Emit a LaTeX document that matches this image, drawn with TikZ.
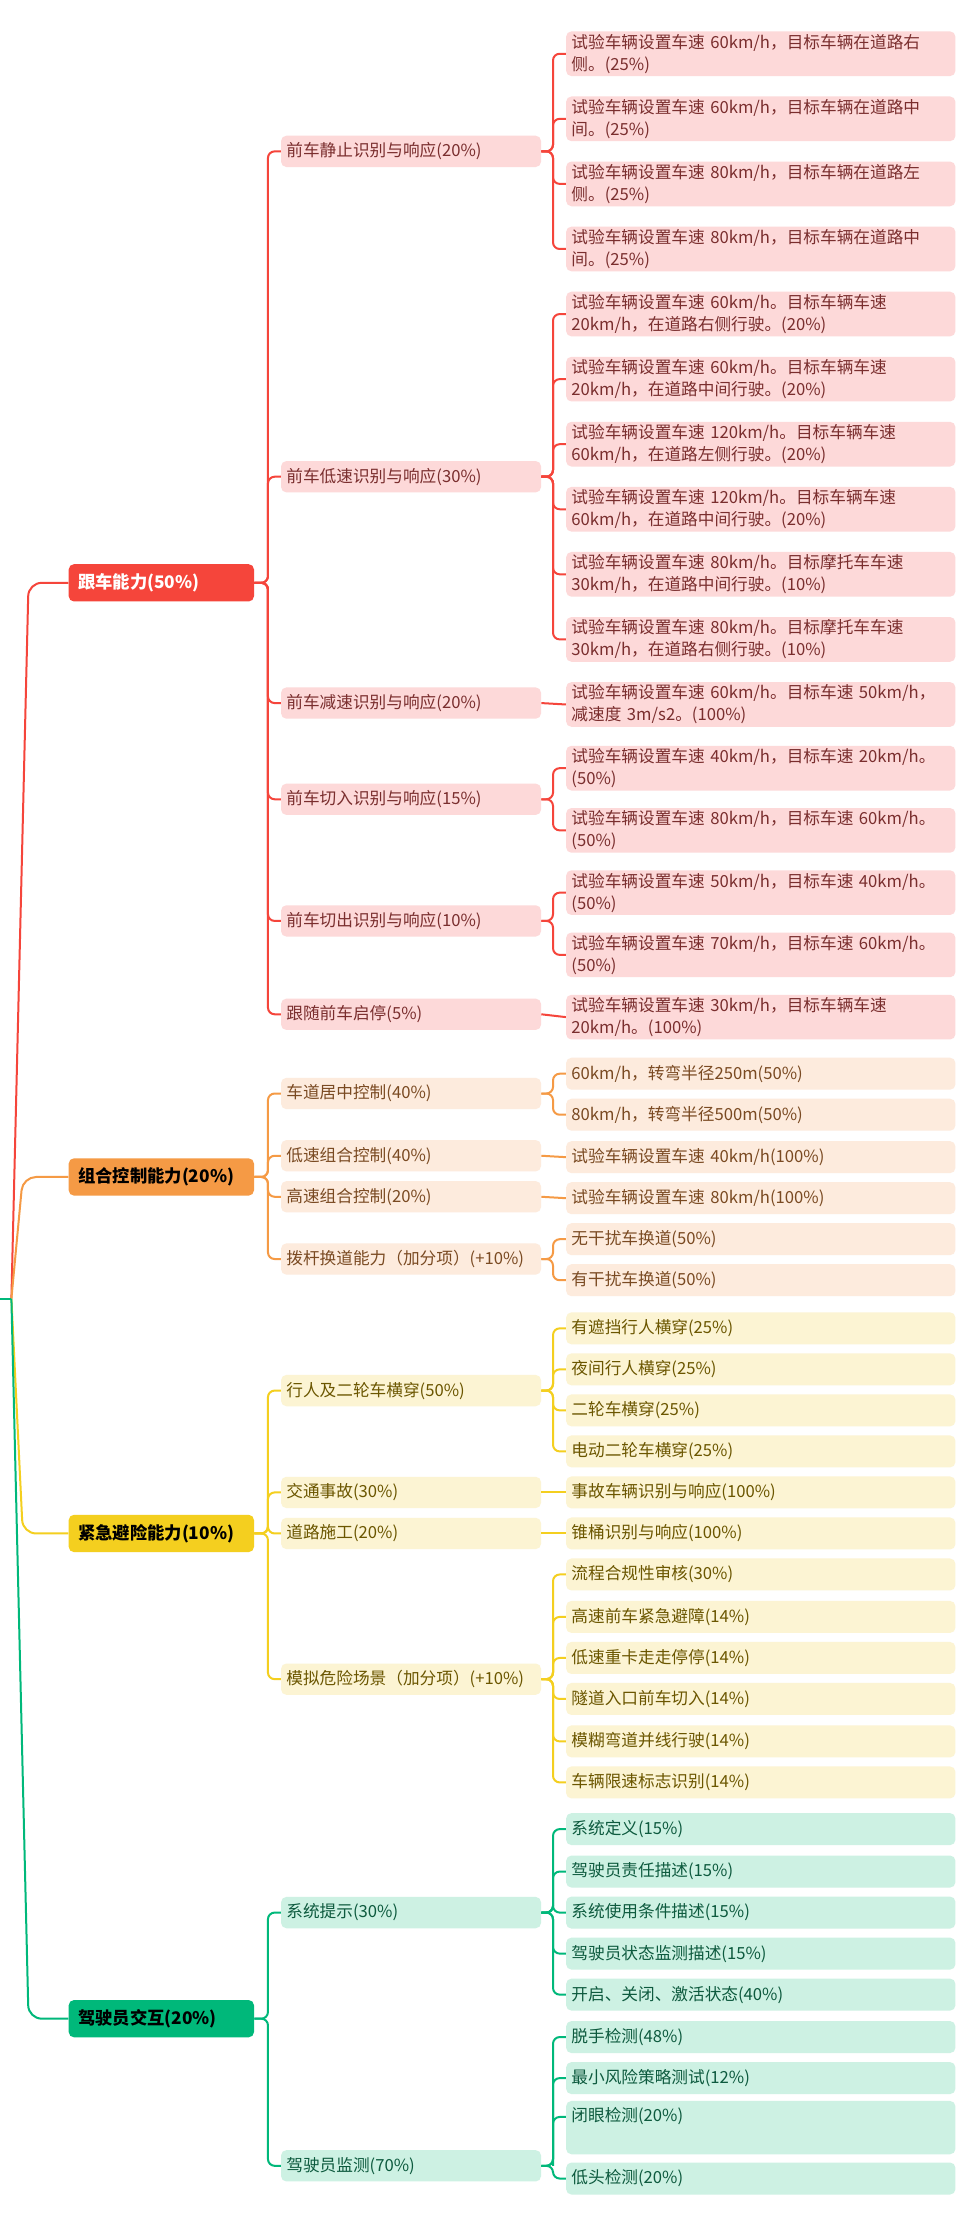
\documentclass[tikz,border=0pt]{standalone}
\usepackage{fontspec}
\setmainfont{Noto Sans CJK SC}
\begin{document}
\begin{tikzpicture}[x=1.069pt,y=-1.061pt,
 base/.style={anchor=west,rounded corners=4pt,inner xsep=4pt,inner ysep=2pt,font=\fontsize{12.5}{16.5}\selectfont,align=left},
 leaf/.style={base,text width=284pt,minimum height=26.7pt},
 mid/.style={base,text width=187pt,minimum height=23.5pt},
 root/.style={base,text width=125pt,minimum height=28pt,inner xsep=7pt,font=\fontsize{13}{16}\selectfont\bfseries},
 lR/.style={leaf,fill=rl,text=rt}, mR/.style={mid,fill=rl,text=rt}, cR/.style={draw=rr,line width=1.5pt,rounded corners=5pt},
 lO/.style={leaf,fill=ol,text=ot}, mO/.style={mid,fill=ol,text=ot}, cO/.style={draw=orr,line width=1.5pt,rounded corners=5pt},
 lY/.style={leaf,fill=yl,text=yt}, mY/.style={mid,fill=yl,text=yt}, cY/.style={draw=yr,line width=1.5pt,rounded corners=5pt},
 lG/.style={leaf,fill=gl,text=gt}, mG/.style={mid,fill=gl,text=gt}, cG/.style={draw=gr,line width=1.5pt,rounded corners=5pt}]
\definecolor{rr}{HTML}{F5453B}\definecolor{rl}{HTML}{FDD9D9}\definecolor{rt}{HTML}{7A2E2E}
\definecolor{orr}{HTML}{F59A45}\definecolor{ol}{HTML}{FDEBDD}\definecolor{ot}{HTML}{7A4A22}
\definecolor{yr}{HTML}{F4CF1F}\definecolor{yl}{HTML}{FCF4D3}\definecolor{yt}{HTML}{6B5600}
\definecolor{gr}{HTML}{00B87A}\definecolor{gl}{HTML}{CDF1E3}\definecolor{gt}{HTML}{0D5A3E}
\useasboundingbox[fill=white] (0,0) rectangle (681.4,1566.5);
% roots
\node[root,fill=rr,text=white] (R1) at (48,412) {跟车能力(50\%)};
\node[root,fill=orr,text=black] (R2) at (48,832) {组合控制能力(20\%)};
\node[root,fill=yr,text=black] (R3) at (48,1084) {紧急避险能力(10\%)};
\node[root,fill=gr,text=black] (R4) at (48,1427) {驾驶员交互(20\%)};
\coordinate (S) at (8,918);
\draw[cR,rounded corners=10pt] (S) -- (20,412) -- (R1.west);
\draw[cO,rounded corners=10pt] (S) -- (16,832) -- (R2.west);
\draw[cY,rounded corners=10pt] (S) -- (16,1084) -- (R3.west);
\draw[cG,rounded corners=10pt] (S) -- (20,1427) -- (R4.west);
\draw[cG] (0,918) -- (S);
% branch 1
\node[mR] (a1) at (197,107) {前车静止识别与响应(20\%)};
\node[mR] (a2) at (197,337) {前车低速识别与响应(30\%)};
\node[mR] (a3) at (197,497) {前车减速识别与响应(20\%)};
\node[mR] (a4) at (197,565) {前车切入识别与响应(15\%)};
\node[mR] (a5) at (197,651) {前车切出识别与响应(10\%)};
\node[mR] (a6) at (197,717) {跟随前车启停(5\%)};
\foreach \m in {a1,a2,a3,a4,a5,a6} \draw[cR] (R1.east) -- (188,412) |- (\m.west);
\node[lR] (a1x1) at (397,38) {试验车辆设置车速 60km/h，目标车辆在道路右\\侧。(25\%)};
\node[lR] (a1x2) at (397,84) {试验车辆设置车速 60km/h，目标车辆在道路中\\间。(25\%)};
\node[lR] (a1x3) at (397,130) {试验车辆设置车速 80km/h，目标车辆在道路左\\侧。(25\%)};
\node[lR] (a1x4) at (397,176) {试验车辆设置车速 80km/h，目标车辆在道路中\\间。(25\%)};
\foreach \l in {a1x1,a1x2,a1x3,a1x4} \draw[cR] (a1.east) -- (388,107) |- (\l.west);
\node[lR] (a2x1) at (397,222) {试验车辆设置车速 60km/h。目标车辆车速\\20km/h，在道路右侧行驶。(20\%)};
\node[lR] (a2x2) at (397,268) {试验车辆设置车速 60km/h。目标车辆车速\\20km/h，在道路中间行驶。(20\%)};
\node[lR] (a2x3) at (397,314) {试验车辆设置车速 120km/h。目标车辆车速\\60km/h，在道路左侧行驶。(20\%)};
\node[lR] (a2x4) at (397,360) {试验车辆设置车速 120km/h。目标车辆车速\\60km/h，在道路中间行驶。(20\%)};
\node[lR] (a2x5) at (397,406) {试验车辆设置车速 80km/h。目标摩托车车速\\30km/h，在道路中间行驶。(10\%)};
\node[lR] (a2x6) at (397,452) {试验车辆设置车速 80km/h。目标摩托车车速\\30km/h，在道路右侧行驶。(10\%)};
\foreach \l in {a2x1,a2x2,a2x3,a2x4,a2x5,a2x6} \draw[cR] (a2.east) -- (388,337) |- (\l.west);
\node[lR] (a3x1) at (397,498) {试验车辆设置车速 60km/h。目标车速 50km/h，\\减速度 3m/s2。(100\%)};
\draw[cR] (a3.east) -- (a3x1.west);
\node[lR] (a4x1) at (397,543) {试验车辆设置车速 40km/h，目标车速 20km/h。\\(50\%)};
\node[lR] (a4x2) at (397,587) {试验车辆设置车速 80km/h，目标车速 60km/h。\\(50\%)};
\foreach \l in {a4x1,a4x2} \draw[cR] (a4.east) -- (388,565) |- (\l.west);
\node[lR] (a5x1) at (397,631) {试验车辆设置车速 50km/h，目标车速 40km/h。\\(50\%)};
\node[lR] (a5x2) at (397,675) {试验车辆设置车速 70km/h，目标车速 60km/h。\\(50\%)};
\foreach \l in {a5x1,a5x2} \draw[cR] (a5.east) -- (388,651) |- (\l.west);
\node[lR] (a6x1) at (397,719) {试验车辆设置车速 30km/h，目标车辆车速\\20km/h。(100\%)};
\draw[cR] (a6.east) -- (a6x1.west);
% branch 2
\node[mO] (b1) at (197,773) {车道居中控制(40\%)};
\node[mO] (b2) at (197,817) {低速组合控制(40\%)};
\node[mO] (b3) at (197,846) {高速组合控制(20\%)};
\node[mO] (b4) at (197,890) {拨杆换道能力（加分项）(+10\%)};
\foreach \m in {b1,b2,b3,b4} \draw[cO] (R2.east) -- (188,832) |- (\m.west);
\node[lO,minimum height=24pt] (b1x1) at (397,759) {60km/h，转弯半径250m(50\%)};
\node[lO,minimum height=24pt] (b1x2) at (397,788) {80km/h，转弯半径500m(50\%)};
\foreach \l in {b1x1,b1x2} \draw[cO] (b1.east) -- (388,773) |- (\l.west);
\node[lO,minimum height=24pt] (b2x1) at (397,818) {试验车辆设置车速 40km/h(100\%)};
\draw[cO] (b2.east) -- (b2x1.west);
\node[lO,minimum height=24pt] (b3x1) at (397,847) {试验车辆设置车速 80km/h(100\%)};
\draw[cO] (b3.east) -- (b3x1.west);
\node[lO,minimum height=24pt] (b4x1) at (397,876) {无干扰车换道(50\%)};
\node[lO,minimum height=24pt] (b4x2) at (397,905) {有干扰车换道(50\%)};
\foreach \l in {b4x1,b4x2} \draw[cO] (b4.east) -- (388,890) |- (\l.west);
% branch 3
\node[mY] (c1) at (197,983) {行人及二轮车横穿(50\%)};
\node[mY] (c2) at (197,1055) {交通事故(30\%)};
\node[mY] (c3) at (197,1084) {道路施工(20\%)};
\node[mY] (c4) at (197,1187) {模拟危险场景（加分项）(+10\%)};
\foreach \m in {c1,c2,c3,c4} \draw[cY] (R3.east) -- (188,1084) |- (\m.west);
\node[lY,minimum height=24pt] (c1x1) at (397,939) {有遮挡行人横穿(25\%)};
\node[lY,minimum height=24pt] (c1x2) at (397,968) {夜间行人横穿(25\%)};
\node[lY,minimum height=24pt] (c1x3) at (397,997) {二轮车横穿(25\%)};
\node[lY,minimum height=24pt] (c1x4) at (397,1026) {电动二轮车横穿(25\%)};
\foreach \l in {c1x1,c1x2,c1x3,c1x4} \draw[cY] (c1.east) -- (388,983) |- (\l.west);
\node[lY,minimum height=24pt] (c2x1) at (397,1055) {事故车辆识别与响应(100\%)};
\draw[cY] (c2.east) -- (c2x1.west);
\node[lY,minimum height=24pt] (c3x1) at (397,1084) {锥桶识别与响应(100\%)};
\draw[cY] (c3.east) -- (c3x1.west);
\node[lY,minimum height=24pt] (c4x1) at (397,1113) {流程合规性审核(30\%)};
\node[lY,minimum height=24pt] (c4x2) at (397,1143) {高速前车紧急避障(14\%)};
\node[lY,minimum height=24pt] (c4x3) at (397,1172) {低速重卡走走停停(14\%)};
\node[lY,minimum height=24pt] (c4x4) at (397,1201) {隧道入口前车切入(14\%)};
\node[lY,minimum height=24pt] (c4x5) at (397,1231) {模糊弯道并线行驶(14\%)};
\node[lY,minimum height=24pt] (c4x6) at (397,1260) {车辆限速标志识别(14\%)};
\foreach \l in {c4x1,c4x2,c4x3,c4x4,c4x5,c4x6} \draw[cY] (c4.east) -- (388,1187) |- (\l.west);
% branch 4
\node[mG] (d1) at (197,1352) {系统提示(30\%)};
\node[mG] (d2) at (197,1531) {驾驶员监测(70\%)};
\foreach \m in {d1,d2} \draw[cG] (R4.east) -- (188,1427) |- (\m.west);
\node[lG,minimum height=24pt] (d1x1) at (397,1293) {系统定义(15\%)};
\node[lG,minimum height=24pt] (d1x2) at (397,1323) {驾驶员责任描述(15\%)};
\node[lG,minimum height=24pt] (d1x3) at (397,1352) {系统使用条件描述(15\%)};
\node[lG,minimum height=24pt] (d1x4) at (397,1381) {驾驶员状态监测描述(15\%)};
\node[lG,minimum height=24pt] (d1x5) at (397,1410) {开启、关闭、激活状态(40\%)};
\foreach \l in {d1x1,d1x2,d1x3,d1x4,d1x5} \draw[cG] (d1.east) -- (388,1352) |- (\l.west);
\node[lG,minimum height=24pt] (d2x1) at (397,1440) {脱手检测(48\%)};
\node[lG,minimum height=24pt] (d2x2) at (397,1469) {最小风险策略测试(12\%)};
\node[lG,minimum height=40pt,text depth=20pt] (d2x3) at (397,1504) {闭眼检测(20\%)};
\node[lG,minimum height=24pt] (d2x4) at (397,1540) {低头检测(20\%)};
\foreach \l in {d2x1,d2x2,d2x4} \draw[cG] (d2.east) -- (388,1531) |- (\l.west);
\draw[cG] (388,1531) |- ([yshift=8pt]d2x3.west);
\end{tikzpicture}
\end{document}
